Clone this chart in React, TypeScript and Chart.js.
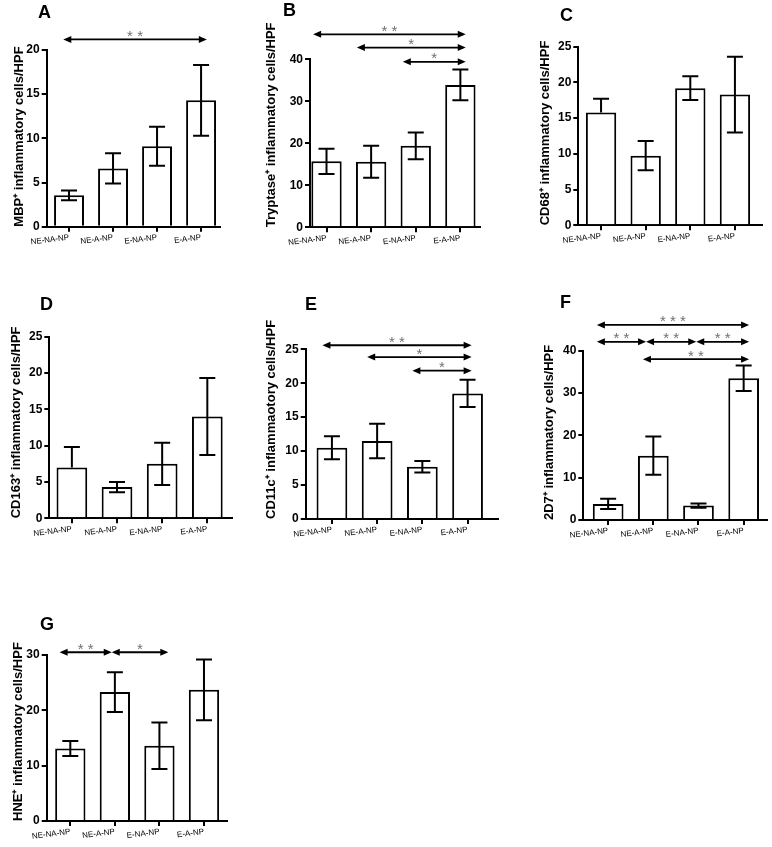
import React, { useEffect, useRef } from "react";
import { Chart, registerables } from "chart.js";

Chart.register(...registerables);

const FONT = "'Liberation Sans', Arial, sans-serif";

// ---------- data ----------
const categories = ["NE-NA-NP", "NE-A-NP", "E-NA-NP", "E-A-NP"];

const mbpValues = [3.55, 6.6, 9.1, 14.3];
const mbpErrors = [0.55, 1.7, 2.2, 4.0];

const tryptaseValues = [15.7, 15.6, 19.4, 33.9];
const tryptaseErrors = [3.0, 3.8, 3.2, 3.65];

const cd68Values = [15.8, 9.75, 19.2, 18.3];
const cd68Errors = [1.9, 2.05, 1.65, 5.3];
const cd68LowerShown = [false, true, true, true];

const cd163Values = [7.0, 4.3, 7.5, 14.0];
const cd163Errors = [2.8, 0.7, 2.9, 5.3];
const cd163LowerShown = [false, true, true, true];

const cd11cValues = [10.5, 11.5, 7.7, 18.5];
const cd11cErrors = [1.7, 2.55, 0.85, 2.0];

const d27Values = [3.8, 15.2, 3.4, 33.5];
const d27Errors = [1.2, 4.5, 0.5, 3.0];

const hneValues = [13.1, 23.3, 13.6, 23.7];
const hneErrors = [1.35, 3.6, 4.2, 5.5];

// significance arrows: [from (category units), to, level (value units), stars]
type Arrow = [number, number, number, string];
const mbpArrows: Arrow[] = [[-0.13, 3.13, 21.2, "* *"]];
const tryptaseArrows: Arrow[] = [
  [-0.3, 3.12, 45.95, "* *"],
  [0.68, 3.12, 42.8, "*"],
  [1.71, 3.12, 39.4, "*"],
];
const cd11cArrows: Arrow[] = [
  [-0.21, 3.09, 25.6, "* *"],
  [0.78, 3.09, 23.85, "*"],
  [1.78, 3.09, 21.85, "*"],
];
const d27Arrows: Arrow[] = [
  [-0.25, 3.12, 46.1, "* * *"],
  [-0.25, 0.84, 42.1, "* *"],
  [0.84, 1.95, 42.1, "* *"],
  [1.95, 3.12, 42.1, "* *"],
  [0.77, 3.12, 38.0, "* *"],
];
const hneArrows: Arrow[] = [
  [-0.24, 0.93, 30.5, "* *"],
  [0.93, 2.2, 30.5, "*"],
];

// ---------- layout ----------
type Panel = {
  letter: string;
  title: string;
  values: number[];
  errors: number[];
  lowerShown?: boolean[];
  max: number;
  step: number;
  arrows: Arrow[];
  left: number;
  top: number;
  width: number;
  height: number;
  axisX: number;
  axisRight: number;
  yTop: number;
  yBottom: number;
  xMin: number;
  xMax: number;
  titleX: number;
  letterX: number;
  letterY: number;
};

const panels: Panel[] = [
  {
    letter: "A", title: "MBP\u207A inflammatory cells/HPF", values: mbpValues, errors: mbpErrors,
    max: 20, step: 5, arrows: mbpArrows,
    left: 0, top: 0, width: 250, height: 265,
    axisX: 46.7, axisRight: 220, yTop: 50, yBottom: 226.7, xMin: -0.507, xMax: 3.43,
    titleX: 19.7, letterX: 38, letterY: 5,
  },
  {
    letter: "B", title: "Tryptase\u207A inflammatory cells/HPF", values: tryptaseValues, errors: tryptaseErrors,
    max: 40, step: 10, arrows: tryptaseArrows,
    left: 250, top: 0, width: 260, height: 265,
    axisX: 310, axisRight: 480, yTop: 59.3, yBottom: 227.3, xMin: -0.37, xMax: 3.44,
    titleX: 271.5, letterX: 283, letterY: 3,
  },
  {
    letter: "C", title: "CD68\u207A inflammatory cells/HPF", values: cd68Values, errors: cd68Errors,
    lowerShown: cd68LowerShown, max: 25, step: 5, arrows: [],
    left: 510, top: 0, width: 262, height: 265,
    axisX: 578.3, axisRight: 761.7, yTop: 46.7, yBottom: 225.3, xMin: -0.51, xMax: 3.6,
    titleX: 545.5, letterX: 560, letterY: 8,
  },
  {
    letter: "D", title: "CD163\u207A inflammatory cells/HPF", values: cd163Values, errors: cd163Errors,
    lowerShown: cd163LowerShown, max: 25, step: 5, arrows: [],
    left: 0, top: 270, width: 250, height: 280,
    axisX: 49.3, axisRight: 231.7, yTop: 336.7, yBottom: 518.3, xMin: -0.5, xMax: 3.54,
    titleX: 16, letterX: 40, letterY: 297,
  },
  {
    letter: "E", title: "CD11c\u207A inflammaotory cells/HPF", values: cd11cValues, errors: cd11cErrors,
    max: 25, step: 5, arrows: cd11cArrows,
    left: 250, top: 270, width: 260, height: 280,
    axisX: 305.7, axisRight: 498.3, yTop: 349.3, yBottom: 519, xMin: -0.58, xMax: 3.68,
    titleX: 271.5, letterX: 305, letterY: 297,
  },
  {
    letter: "F", title: "2D7\u207A inflammatory cells/HPF", values: d27Values, errors: d27Errors,
    max: 40, step: 10, arrows: d27Arrows,
    left: 510, top: 270, width: 262, height: 280,
    axisX: 583.3, axisRight: 766.7, yTop: 350.7, yBottom: 520, xMin: -0.55, xMax: 3.51,
    titleX: 549, letterX: 560, letterY: 295,
  },
  {
    letter: "G", title: "HNE\u207A inflammatory cells/HPF", values: hneValues, errors: hneErrors,
    max: 30, step: 10, arrows: hneArrows,
    left: 0, top: 560, width: 250, height: 287,
    axisX: 46.7, axisRight: 226.7, yTop: 655, yBottom: 821, xMin: -0.53, xMax: 3.51,
    titleX: 18, letterX: 40, letterY: 617,
  },
];

const CAP = 8;
const HEAD_L = 8;
const HEAD_H = 7;
const TITLE_SIZE = 13;

function PanelChart({ p }: { p: Panel }) {
  const ref = useRef<HTMLCanvasElement>(null);

  useEffect(() => {
    const canvas = ref.current;
    if (!canvas) return;
    const W = p.width;
    const H = p.height;
    const axisXc = p.axisX - p.left;
    const yTopC = p.yTop - p.top;
    const yBotC = p.yBottom - p.top;
    const axisRightC = p.axisRight - p.left;
    const titlePad = p.titleX - p.left - (TITLE_SIZE * 1.2) / 2;

    const overlay = {
      id: "overlay" + p.letter,
      afterDatasetsDraw(chart: any) {
        const { ctx } = chart;
        const x = chart.scales.x;
        const y = chart.scales.y;
        ctx.save();
        // error bars
        ctx.strokeStyle = "#000";
        ctx.lineWidth = 2;
        p.values.forEach((v, i) => {
          const showLow = p.lowerShown ? p.lowerShown[i] : true;
          const px = x.getPixelForValue(i);
          const hi = y.getPixelForValue(v + p.errors[i]);
          const lo = y.getPixelForValue(showLow ? v - p.errors[i] : v);
          ctx.beginPath();
          ctx.moveTo(px, hi);
          ctx.lineTo(px, lo);
          ctx.moveTo(px - CAP, hi);
          ctx.lineTo(px + CAP, hi);
          if (showLow) {
            ctx.moveTo(px - CAP, lo);
            ctx.lineTo(px + CAP, lo);
          }
          ctx.stroke();
        });
        // significance arrows
        p.arrows.forEach(([a, b, lvl, stars]) => {
          const x1 = x.getPixelForValue(a);
          const x2 = x.getPixelForValue(b);
          const py = y.getPixelForValue(lvl);
          ctx.strokeStyle = "#000";
          ctx.fillStyle = "#000";
          ctx.lineWidth = 1.8;
          ctx.beginPath();
          ctx.moveTo(x1 + 3, py);
          ctx.lineTo(x2 - 3, py);
          ctx.stroke();
          ctx.beginPath();
          ctx.moveTo(x1, py);
          ctx.lineTo(x1 + HEAD_L, py - HEAD_H / 2);
          ctx.lineTo(x1 + HEAD_L, py + HEAD_H / 2);
          ctx.closePath();
          ctx.fill();
          ctx.beginPath();
          ctx.moveTo(x2, py);
          ctx.lineTo(x2 - HEAD_L, py - HEAD_H / 2);
          ctx.lineTo(x2 - HEAD_L, py + HEAD_H / 2);
          ctx.closePath();
          ctx.fill();
          ctx.fillStyle = "#707070";
          ctx.font = `15px ${FONT}`;
          ctx.textAlign = "center";
          ctx.textBaseline = "alphabetic";
          ctx.fillText(stars, (x1 + x2) / 2, py + 1.5);
        });
        ctx.restore();
      },
    };

    const chart = new Chart(canvas, {
      type: "bar",
      data: {
        datasets: [
          {
            data: p.values.map((v, i) => ({ x: i, y: v })),
            backgroundColor: "#ffffff",
            borderColor: "#000000",
            borderWidth: 2,
            barPercentage: 0.68,
            categoryPercentage: 1,
          },
        ],
      },
      options: {
        responsive: false,
        animation: false,
        events: [],
        layout: { padding: { left: 0, top: yTopC, right: W - axisRightC, bottom: 0 } },
        plugins: { legend: { display: false }, tooltip: { enabled: false }, title: { display: false } },
        scales: {
          x: {
            type: "linear",
            min: p.xMin,
            max: p.xMax,
            offset: false,
            grid: {
              display: true,
              offset: false,
              drawOnChartArea: false,
              drawTicks: true,
              tickLength: 5,
              color: "#000",
              lineWidth: 2,
            },
            border: { display: true, color: "#000", width: 2 },
            ticks: {
              stepSize: 1,
              includeBounds: false,
              autoSkip: false,
              minRotation: 7,
              maxRotation: 7,
              padding: 1,
              color: "#000",
              font: { family: FONT, size: 8 },
              callback: (v: any) => categories[v] ?? "",
            },
            afterFit: (s: any) => {
              s.height = H - yBotC;
            },
          } as any,
          y: {
            type: "linear",
            min: 0,
            max: p.max,
            grid: {
              display: true,
              drawOnChartArea: false,
              drawTicks: true,
              tickLength: 5,
              color: "#000",
              lineWidth: 2,
            },
            border: { display: true, color: "#000", width: 2 },
            ticks: {
              stepSize: p.step,
              padding: 2,
              color: "#000",
              font: { family: FONT, size: 12, weight: "bold" },
            },
            title: {
              display: true,
              text: p.title,
              align: "start",
              color: "#000",
              font: { family: FONT, size: TITLE_SIZE, weight: "bold" },
              padding: { top: titlePad, bottom: 0 },
            },
            afterFit: (s: any) => {
              s.width = axisXc;
            },
          } as any,
        },
      },
      plugins: [overlay],
    } as any);

    return () => chart.destroy();
  }, [p]);

  return (
    <canvas
      ref={ref}
      width={p.width}
      height={p.height}
      style={{ position: "absolute", left: p.left, top: p.top, width: p.width, height: p.height }}
    />
  );
}

export default function App() {
  return (
    <div
      style={{
        position: "absolute",
        left: 0,
        top: 0,
        width: 772,
        height: 847,
        background: "#fff",
        overflow: "hidden",
      }}
    >
      {panels.map((p) => (
        <PanelChart key={p.letter} p={p} />
      ))}
      {panels.map((p) => (
        <div
          key={"l" + p.letter}
          style={{
            position: "absolute",
            left: p.letterX,
            top: p.letterY - 2.3,
            fontFamily: FONT,
            fontWeight: "bold",
            fontSize: 18,
            lineHeight: "18px",
            color: "#000",
          }}
        >
          {p.letter}
        </div>
      ))}
    </div>
  );
}
